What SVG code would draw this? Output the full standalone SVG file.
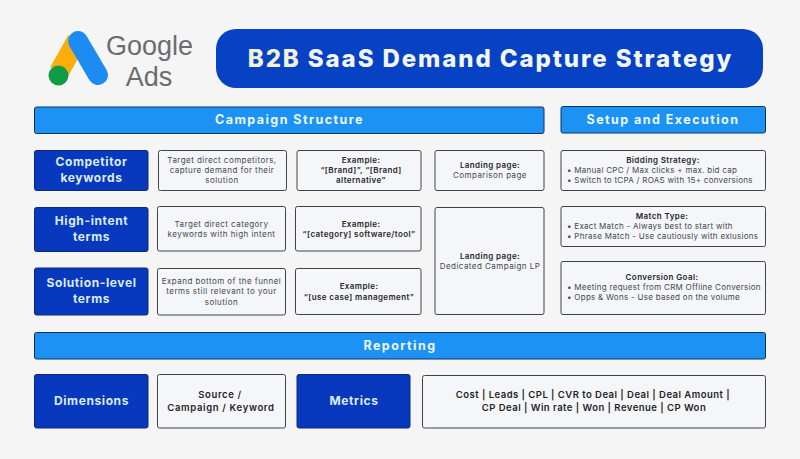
<svg xmlns="http://www.w3.org/2000/svg" width="800" height="459" viewBox="0 0 800 459">
<style>
text{font-family:"Inter","Liberation Sans",sans-serif;text-anchor:middle}
.hdr{fill:#1c92f5;stroke:#0d3260;stroke-width:1}
.blue{fill:#0838be;stroke:#0a2a78;stroke-width:1}
.card{fill:#f5f6f9;stroke:#3f444b;stroke-width:1}
.ht{font-size:12.5px;font-weight:700;fill:#eef7fb;letter-spacing:1.450px}
.bt{font-size:12px;font-weight:700;fill:#dcedf8;letter-spacing:.6px}
.d{font-size:8px;font-weight:400;fill:#44484e;letter-spacing:.45px}
.li{font-size:8px;font-weight:400;fill:#44484e;letter-spacing:.28px;text-anchor:start}
.e{font-size:8px;font-weight:600;fill:#24262a;letter-spacing:.4px}
.m{font-size:9.5px;font-weight:600;fill:#1d1f24;letter-spacing:.65px}
.n{font-size:9.5px;font-weight:600;fill:#1d1f24;letter-spacing:.47px}
.g{font-family:"Liberation Sans",sans-serif;font-size:27px;fill:#6b6c70}
</style>
<rect width="800" height="459" fill="#f5f5f6"/>
<g id="logo">
<path d="M59 72 L77 40" stroke="#fbae0a" stroke-width="20" fill="none"/>
<path d="M78 41 L98 75" stroke="#1c8cf2" stroke-width="20" stroke-linecap="round" fill="none"/>
<circle cx="58.500" cy="75.500" r="10" fill="#109c45"/>
<text class="g" x="149.500" y="55">Google</text>
<text class="g" x="149" y="85.500">Ads</text>
</g>
<g id="title">
<rect x="216" y="29" width="547" height="59" rx="20" fill="#0742c4"/>
<text x="490.500" y="66.500" font-size="24" font-weight="800" fill="#f2f6f4" letter-spacing="1.900"><tspan fill="#f3f1d6">B2B</tspan> SaaS Demand Capture Strategy</text>
</g>
<g id="campaign-structure"><rect class="hdr" x="34.500" y="107" width="509.500" height="26.500" rx="2"/><text class="ht" x="289.500" y="124">Campaign Structure</text></g>
<g id="setup-execution"><rect class="hdr" x="561" y="106.500" width="204.500" height="26.500" rx="2"/><text class="ht" x="663" y="124">Setup and Execution</text></g>
<g id="competitor-keywords"><rect class="blue" x="34.500" y="150.500" width="113.500" height="40" rx="2"/><text class="bt" x="91.500" y="166">Competitor</text><text class="bt" x="91.500" y="182">keywords</text></g>
<g id="competitor-desc"><rect class="card" x="158.500" y="150.500" width="128" height="40" rx="2"/><text class="d" x="222" y="163">Target direct competitors,</text><text class="d" x="222" y="173">capture demand for their</text><text class="d" x="222" y="183">solution</text></g>
<g id="competitor-example"><rect class="card" x="297" y="150.500" width="124" height="40" rx="2"/><text class="e" x="361" y="163">Example:</text><text class="e" x="361" y="173">“[Brand]”, “[Brand]</text><text class="e" x="361" y="183">alternative”</text></g>
<g id="landing-comparison"><rect class="card" x="435" y="150.500" width="109" height="40" rx="2"/><text class="e" x="490" y="168">Landing page:</text><text class="d" x="490" y="178">Comparison page</text></g>
<g id="bidding"><rect class="card" x="561" y="150.500" width="204.500" height="40" rx="2"/><text class="e" x="663" y="163">Bidding Strategy:</text><text class="li" x="567" y="173">•  Manual CPC / Max clicks + max. bid cap</text><text class="li" x="567" y="183">•  Switch to tCPA / ROAS with 15+ conversions</text></g>
<g id="high-intent"><rect class="blue" x="34.500" y="207.500" width="113.500" height="44" rx="2"/><text class="bt" x="91.500" y="225">High-intent</text><text class="bt" x="91.500" y="241">terms</text></g>
<g id="high-intent-desc"><rect class="card" x="157.500" y="206.500" width="128" height="44.500" rx="2"/><text class="d" x="221.500" y="227">Target direct category</text><text class="d" x="221.500" y="237">keywords with high intent</text></g>
<g id="high-intent-example"><rect class="card" x="295.500" y="206.500" width="125.500" height="44.500" rx="2"/><text class="e" x="361" y="226.500">Example:</text><text class="e" x="359" y="236.500">“[category] software/tool”</text></g>
<g id="landing-dedicated"><rect class="card" x="435" y="207.500" width="109" height="107" rx="2"/><text class="e" x="490" y="259">Landing page:</text><text class="d" x="490" y="269">Dedicated Campaign LP</text></g>
<g id="match-type"><rect class="card" x="561" y="206.500" width="204.500" height="40" rx="2"/><text class="e" x="662" y="219">Match Type:</text><text class="li" x="567" y="229">•  Exact Match - Always best to start with</text><text class="li" x="567" y="239">•  Phrase Match - Use cautiously with exlusions</text></g>
<g id="solution-level"><rect class="blue" x="34.500" y="268" width="113.500" height="47" rx="2"/><text class="bt" x="91.500" y="287">Solution-level</text><text class="bt" x="91.500" y="303">terms</text></g>
<g id="solution-desc"><rect class="card" x="157.500" y="268.500" width="128" height="46.500" rx="2"/><text class="d" x="221.500" y="284">Expand bottom of the funnel</text><text class="d" x="221.500" y="294">terms still relevant to your</text><text class="d" x="221.500" y="305">solution</text></g>
<g id="solution-example"><rect class="card" x="295.500" y="268.500" width="125.500" height="46" rx="2"/><text class="e" x="359" y="289">Example:</text><text class="e" x="359" y="300">“[use case] management”</text></g>
<g id="conversion-goal"><rect class="card" x="561" y="261.500" width="204.500" height="53" rx="2"/><text class="e" x="662" y="280">Conversion Goal:</text><text class="li" x="567" y="290">•  Meeting request from CRM Offline Conversion</text><text class="li" x="567" y="300">•  Opps &amp; Wons - Use based on the volume</text></g>
<g id="reporting"><rect class="hdr" x="34.500" y="332.500" width="731" height="26.500" rx="2"/><text class="ht" x="400" y="350">Reporting</text></g>
<g id="dimensions"><rect class="blue" x="34.500" y="374.500" width="113.500" height="53.500" rx="2"/><text class="bt" x="91.500" y="405">Dimensions</text></g>
<g id="dimensions-values"><rect class="card" x="157.500" y="374.500" width="128" height="53.500" rx="2"/><text class="m" x="220" y="398">Source /</text><text class="m" x="221" y="411">Campaign / Keyword</text></g>
<g id="metrics"><rect class="blue" x="297" y="374.500" width="113" height="53.500" rx="2"/><text class="bt" x="354" y="405">Metrics</text></g>
<g id="metrics-values"><rect class="card" x="422.500" y="375.500" width="343" height="52.500" rx="2"/><text class="n" x="593" y="398">Cost | Leads | CPL | CVR to Deal | Deal | Deal Amount |</text><text class="n" x="594" y="411">CP Deal | Win rate | Won | Revenue | CP Won</text></g>
<g id="connectors"></g>
</svg>
